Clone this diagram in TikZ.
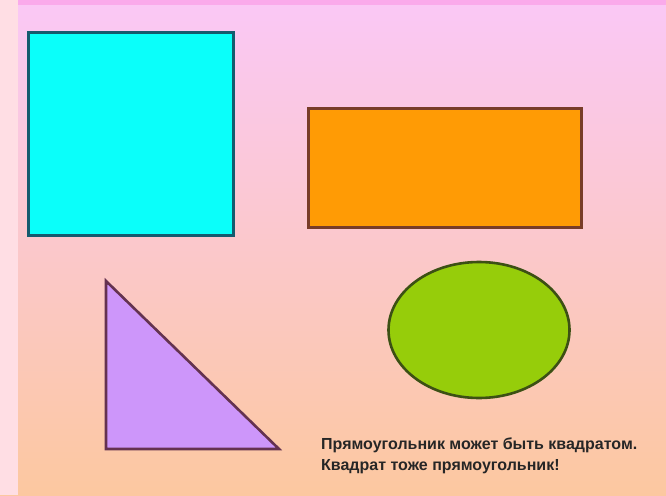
\documentclass[tikz,border=0pt]{standalone}
\usepackage{fontspec}
\setmainfont{Liberation Sans}
\usepackage{tikz}
\usetikzlibrary{shapes.geometric, calc}
\usepackage{xcolor}

\definecolor{bgtop}{RGB}{250,200,246}
\definecolor{bgbot}{RGB}{252,200,160}
\definecolor{bandtop}{RGB}{250,170,235}
\definecolor{stripl}{RGB}{255,222,228}
\definecolor{sqfill}{RGB}{10,255,250}
\definecolor{sqline}{RGB}{20,90,110}
\definecolor{recfill}{RGB}{255,155,5}
\definecolor{recline}{RGB}{120,60,40}
\definecolor{trifill}{RGB}{205,150,250}
\definecolor{triline}{RGB}{100,50,80}
\definecolor{ovfill}{RGB}{150,205,10}
\definecolor{ovline}{RGB}{60,80,20}

\begin{document}
\begin{tikzpicture}[
  x=1pt, y=-1pt,
  figure/.style={line width=2.6pt, line join=miter},
  note/.style={font=\fontsize{16}{21}\selectfont\bfseries, text=black!85,
               align=left, anchor=north west, inner sep=0pt}
]

% ---------------------------------------------- background
\useasboundingbox (0,0) rectangle (666,495);
\shade[top color=bgtop, bottom color=bgbot] (0,0) rectangle (666,495);
\fill[bandtop] (0,0) rectangle (666,5);
\fill[stripl] (0,0) rectangle (18,495);

% ---------------------------------------------- the square and the rectangle
\node[figure, draw=sqline, fill=sqfill, rectangle, minimum width=205pt,
      minimum height=203pt, inner sep=0pt] (square) at (131,134) {};
\node[figure, draw=recline, fill=recfill, rectangle, minimum width=273pt,
      minimum height=119pt, inner sep=0pt] (rect) at (445,168) {};

% ---------------------------------------------- the triangle
\coordinate (tritop)   at (106,281);
\coordinate (trileft)  at (106,449);
\coordinate (triright) at (279,449);
\draw[figure, draw=triline, fill=trifill] (tritop) -- (trileft) -- (triright) -- cycle;

% ---------------------------------------------- the oval
\node[figure, draw=ovline, fill=ovfill, ellipse, minimum width=181pt,
      minimum height=136pt, inner sep=0pt] (oval) at (479,330) {};

% ---------------------------------------------- caption
\node[note] (caption) at (321,438)
  {Прямоугольник может быть квадратом.\\Квадрат тоже прямоугольник!};

\end{tikzpicture}
\end{document}
